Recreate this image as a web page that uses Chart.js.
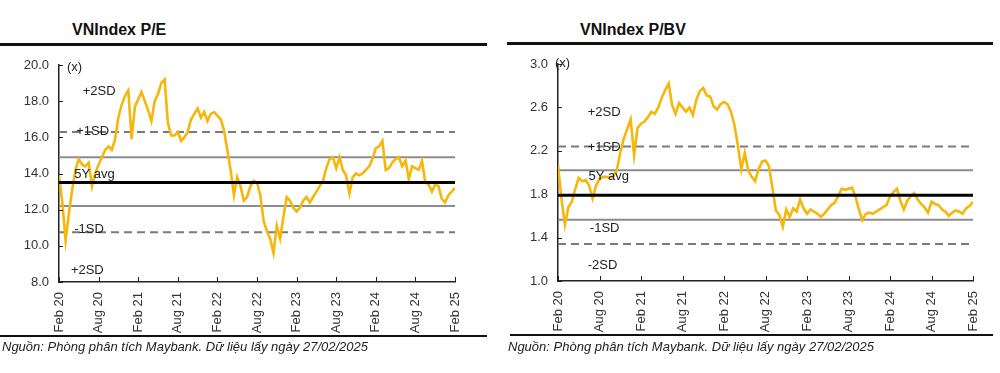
<!DOCTYPE html>
<html>
<head>
<meta charset="utf-8">
<script src="https://cdn.jsdelivr.net/npm/chart.js@4.4.1/dist/chart.umd.min.js"></script>
<style>
  body { margin: 0; width: 1000px; height: 373px; background: #fff; position: relative; overflow: hidden;
         font-family: "Liberation Sans", Arial, sans-serif; color: #222; }
  .title { position: absolute; top: 22px; font-size: 16px; line-height: 16px; font-weight: bold; color: #111; }
  .rule { position: absolute; background: #111; }
  .src { position: absolute; top: 340px; font-size: 13px; line-height: 13px; font-style: italic; color: #222; white-space: nowrap; }
  canvas { position: absolute; top: 55px; }
</style>
</head>
<body>
<div class="title" style="left:72px">VNIndex P/E</div>
<div class="rule" style="left:0; top:43px; width:487px; height:3px"></div>
<div class="title" style="left:580px">VNIndex P/BV</div>
<div class="rule" style="left:507px; top:42px; width:486px; height:3px"></div>

<canvas id="peChart" width="487" height="290" style="left:0"></canvas>
<canvas id="pbChart" width="493" height="290" style="left:500px"></canvas>

<div class="rule" style="left:0; top:335px; width:487px; height:2px"></div>
<div class="src" style="left:2px">Nguồn: Phòng phân tích Maybank. Dữ liệu lấy ngày 27/02/2025</div>
<div class="rule" style="left:510px; top:334px; width:483px; height:2px"></div>
<div class="src" style="left:508px">Nguồn: Phòng phân tích Maybank. Dữ liệu lấy ngày 27/02/2025</div>

<script>
// x axis: months since Feb 2020, one value every half month
const xTickLabels = ["Feb 20", "Aug 20", "Feb 21", "Aug 21", "Feb 22", "Aug 22",
                     "Feb 23", "Aug 23", "Feb 24", "Aug 24", "Feb 25"];
const monthStep = 0.5;

// VNIndex P/E (x)
const peValues = [
  13.9, 12.4, 10.3, 11.8, 13.1, 14.2, 14.8, 14.5, 14.4, 14.6,
  13.3, 14.0, 14.5, 14.9, 15.3, 15.5, 15.3, 15.9, 17.1, 17.8,
  18.3, 18.6, 15.9, 17.7, 18.1, 18.5, 18.0, 17.5, 16.9, 18.0,
  18.4, 19.0, 19.2, 16.8, 16.1, 16.1, 16.3, 15.8, 16.0, 16.3,
  17.0, 17.3, 17.6, 17.1, 17.4, 16.9, 17.3, 17.4, 17.2, 17.0,
  16.4, 15.3, 14.2, 12.8, 13.8, 13.3, 12.5, 12.7, 13.3, 13.6,
  13.5, 12.8, 11.4, 10.8, 10.4, 9.6, 11.1, 10.4, 11.6, 12.7,
  12.5, 12.1, 11.9, 12.1, 12.5, 12.7, 12.4, 12.7, 13.0, 13.3,
  13.6, 14.3, 14.8, 14.9, 14.3, 14.9, 14.2, 13.9, 12.9, 13.8,
  14.0, 13.9, 14.0, 14.2, 14.4, 14.8, 15.4, 15.5, 15.8, 14.2,
  14.3, 14.6, 14.8, 14.9, 14.4, 14.7, 13.7, 14.4, 14.3, 14.2,
  14.7, 13.5, 13.4, 13.0, 13.4, 13.3, 12.6, 12.4, 12.8, 13.0,
  13.2
];
// +1SD, upper band, 5Y avg, lower band, -1SD
const peBands = [16.3, 14.9, 13.5, 12.2, 10.75];

// VNIndex P/BV (x)
const pbValues = [
  2.07, 1.76, 1.52, 1.68, 1.73, 1.85, 1.95, 1.92, 1.93, 1.88,
  1.76, 1.88, 1.94, 1.96, 1.96, 1.95, 1.97, 2.02, 2.18, 2.31,
  2.40, 2.49, 2.16, 2.41, 2.45, 2.47, 2.51, 2.56, 2.54, 2.60,
  2.69, 2.76, 2.82, 2.62, 2.54, 2.64, 2.60, 2.56, 2.60, 2.53,
  2.67, 2.75, 2.78, 2.71, 2.70, 2.61, 2.58, 2.63, 2.65, 2.63,
  2.56, 2.44, 2.25, 2.03, 2.18, 2.02, 1.96, 1.92, 2.03, 2.10,
  2.11, 2.06, 1.86, 1.65, 1.61, 1.50, 1.66, 1.59, 1.67, 1.64,
  1.75, 1.67, 1.62, 1.66, 1.64, 1.62, 1.59, 1.62, 1.66, 1.70,
  1.72, 1.78, 1.85, 1.84, 1.85, 1.86, 1.78, 1.66, 1.56, 1.62,
  1.63, 1.62, 1.64, 1.66, 1.68, 1.70, 1.78, 1.82, 1.85, 1.74,
  1.66, 1.74, 1.78, 1.81, 1.75, 1.71, 1.68, 1.63, 1.73, 1.71,
  1.70, 1.66, 1.64, 1.60, 1.63, 1.65, 1.64, 1.62, 1.67, 1.69,
  1.73
];
const pbBands = [2.24, 2.02, 1.79, 1.565, 1.34];

const FONT = "'Liberation Sans', Arial, sans-serif";
const LINE_COLOR = "#F5B70A";

// text labels next to the bands
const bandText = {
  id: "bandText",
  afterDatasetsDraw(chart, args, opts) {
    const { ctx, chartArea: a, scales: { x, y } } = chart;
    ctx.save();
    ctx.font = "13px " + FONT;
    ctx.fillStyle = "#222";
    ctx.textBaseline = "middle";
    for (const it of opts.items) {
      ctx.fillText(it.text, x.getPixelForValue(it.x), y.getPixelForValue(it.y));
    }
    ctx.fillText("(x)", a.left + opts.unitDx, a.top + opts.unitDy);
    ctx.restore();
  }
};

// small tick marks pointing into the plot
const innerTicks = {
  id: "innerTicks",
  afterDraw(chart) {
    const { ctx, chartArea: a, scales: { x, y } } = chart;
    ctx.save();
    ctx.strokeStyle = "#222";
    ctx.lineWidth = 1;
    ctx.beginPath();
    x.ticks.forEach(t => {
      const px = Math.round(x.getPixelForValue(t.value)) + 0.5;
      ctx.moveTo(px, a.bottom);
      ctx.lineTo(px, a.bottom - 5);
    });
    y.ticks.forEach(t => {
      const py = Math.round(y.getPixelForValue(t.value)) + 0.5;
      ctx.moveTo(a.left, py);
      ctx.lineTo(a.left + 4, py);
    });
    ctx.stroke();
    ctx.restore();
  }
};

function bandDatasets(bands) {
  const styles = [
    { borderColor: "#7a7a7a", borderWidth: 2, borderDash: [8, 5] },
    { borderColor: "#8c8c8c", borderWidth: 2 },
    { borderColor: "#000", borderWidth: 3, order: 0 },
    { borderColor: "#8c8c8c", borderWidth: 2 },
    { borderColor: "#7a7a7a", borderWidth: 2, borderDash: [8, 5] }
  ];
  return bands.map((v, i) => Object.assign({
    data: [{ x: 0, y: v }, { x: 60, y: v }],
    pointRadius: 0,
    order: 2
  }, styles[i]));
}

function makeChart(id, values, bands, yMin, yMax, yStep, cfg) {
  const points = values.map((v, i) => ({ x: i * monthStep, y: v }));
  return new Chart(document.getElementById(id), {
    type: "line",
    data: {
      datasets: [
        { data: points, borderColor: LINE_COLOR, borderWidth: 2.6, pointRadius: 0, tension: 0, order: 1 },
        ...bandDatasets(bands)
      ]
    },
    options: {
      responsive: false,
      animation: false,
      devicePixelRatio: 1,
      layout: { padding: cfg.padding },
      plugins: {
        legend: { display: false },
        tooltip: { enabled: false },
        bandText: { items: cfg.labels, unitDx: cfg.unitDx, unitDy: cfg.unitDy }
      },
      scales: {
        x: {
          type: "linear",
          min: 0,
          max: 60,
          grid: { display: false, drawTicks: false },
          border: { display: true, color: "#222", width: 1.5 },
          // fixed axis box, no label overhang
          afterFit: (s) => { s.height = cfg.xHeight; s.paddingLeft = 0; s.paddingRight = 0; },
          ticks: {
            stepSize: 6,
            autoSkip: false,
            minRotation: 90,
            maxRotation: 90,
            padding: 10,
            color: "#333",
            font: { family: FONT, size: 13 },
            callback: (v) => xTickLabels[Math.round(v / 6)]
          }
        },
        y: {
          min: yMin,
          max: yMax,
          grid: { display: false, drawTicks: false },
          border: { display: true, color: "#222", width: 1.5 },
          afterFit: (s) => { s.width = cfg.yWidth; s.paddingTop = 0; s.paddingBottom = 0; },
          ticks: {
            stepSize: yStep,
            padding: 10,
            color: "#333",
            font: { family: FONT, size: 13 },
            callback: (v) => Number(v).toFixed(1)
          }
        }
      }
    },
    plugins: [bandText, innerTicks]
  });
}

makeChart("peChart", peValues, peBands, 8, 20, 2, {
  padding: { top: 10, right: 32, bottom: 0, left: 0 },
  xHeight: 63,
  yWidth: 59,
  unitDx: 8,
  unitDy: 2,
  labels: [
    { text: "+2SD", x: 3.6, y: 18.53 },
    { text: "+1SD", x: 2.6, y: 16.3 },
    { text: "5Y avg", x: 2.3, y: 13.97 },
    { text: "-1SD", x: 2.3, y: 10.88 },
    { text: "+2SD", x: 1.8, y: 8.63 }
  ]
});

makeChart("pbChart", pbValues, pbBands, 1, 3, 0.4, {
  padding: { top: 9, right: 20, bottom: 0, left: 0 },
  xHeight: 64,
  yWidth: 58,
  unitDx: -3,
  unitDy: -1,
  labels: [
    { text: "+2SD", x: 4.3, y: 2.55 },
    { text: "+1SD", x: 4.3, y: 2.235 },
    { text: "5Y avg", x: 4.4, y: 1.96 },
    { text: "-1SD", x: 4.6, y: 1.48 },
    { text: "-2SD", x: 4.3, y: 1.14 }
  ]
});
</script>
</body>
</html>
